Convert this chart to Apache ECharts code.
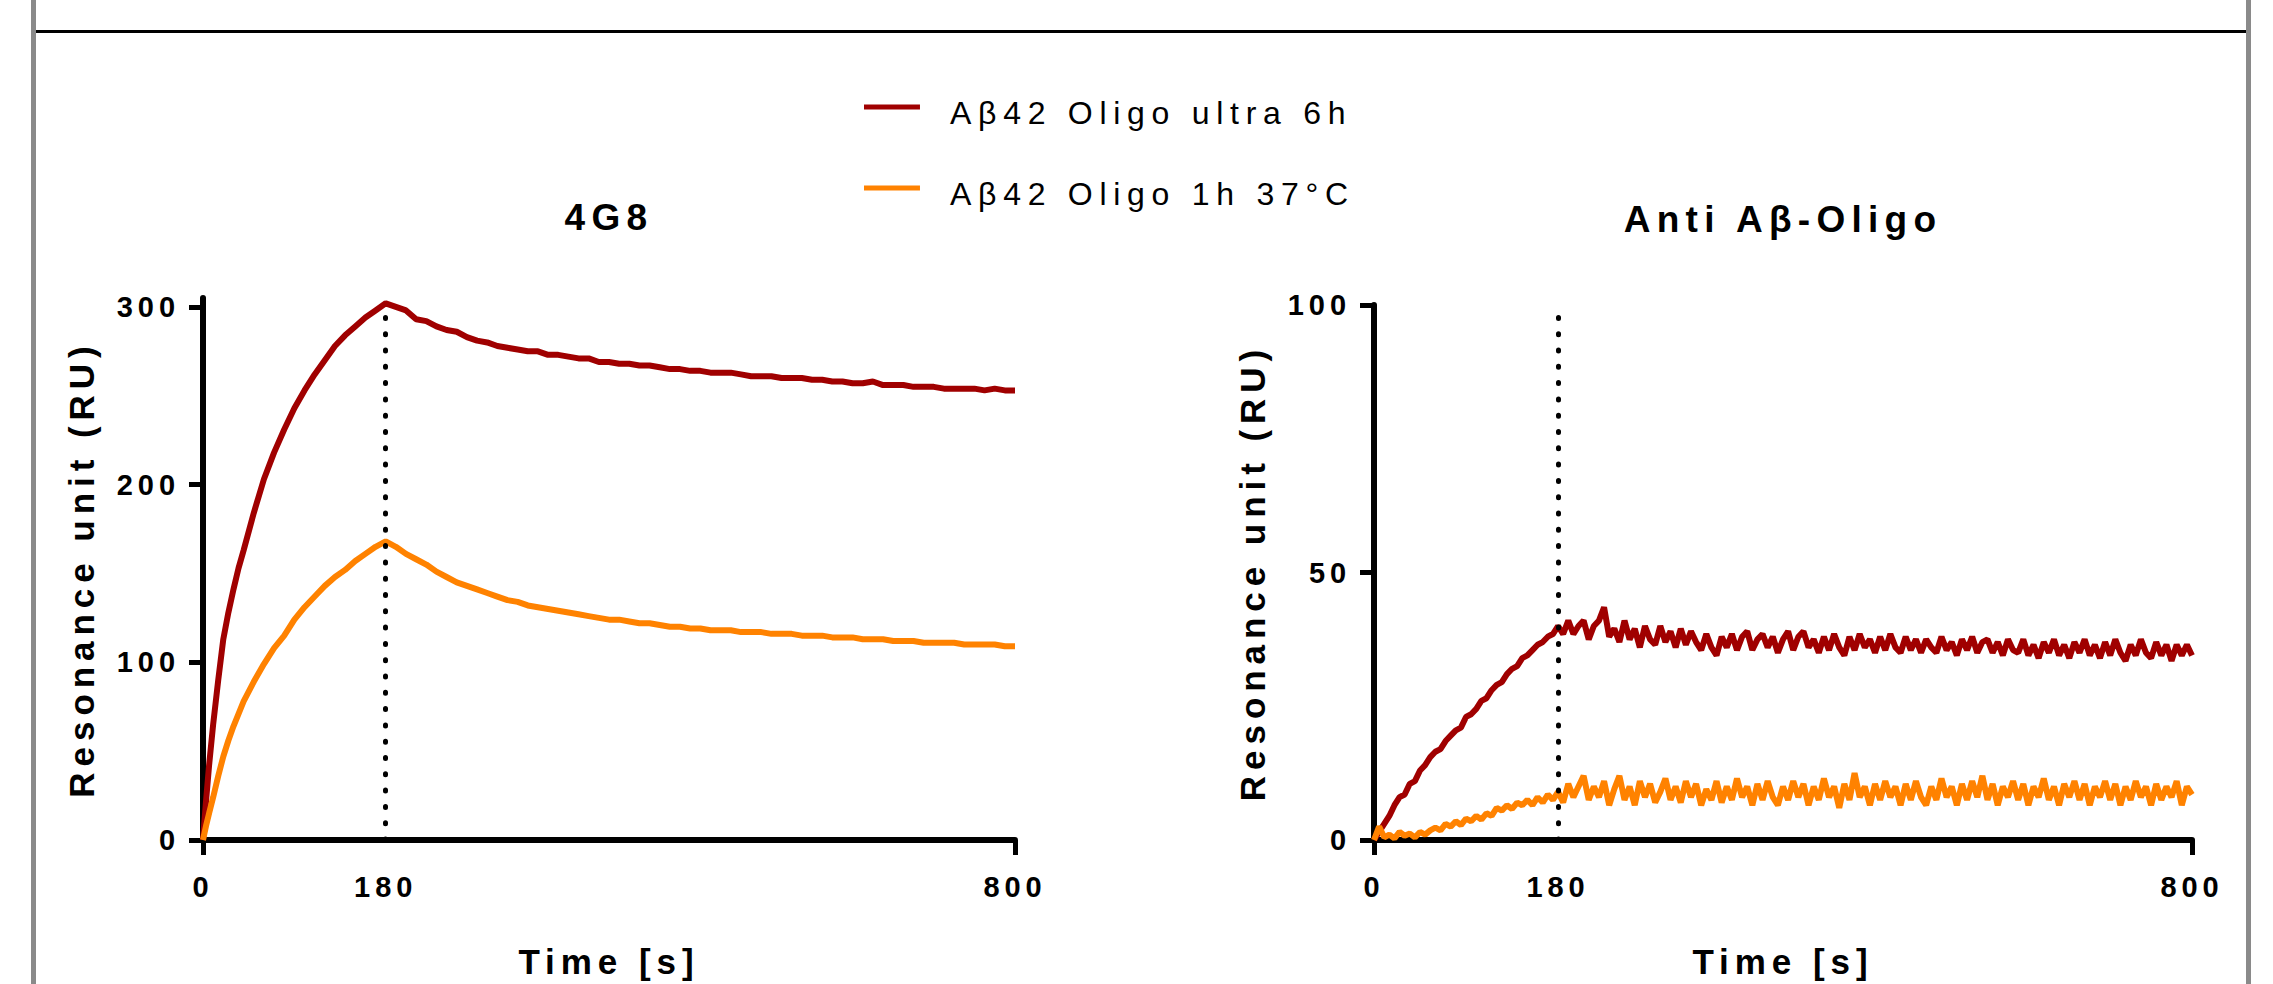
<!DOCTYPE html>
<html><head><meta charset="utf-8">
<script src="https://cdn.jsdelivr.net/npm/echarts@6/dist/echarts.min.js"></script>
<style>
html,body{margin:0;padding:0;background:#fff;}
#main{width:2273px;height:984px;}
#main svg text{letter-spacing:0.17em;}
#main svg text[style*="32px"]{letter-spacing:0.21em;}
</style></head><body><div id="main"></div>
<script>
// ---------------- data ----------------
const seriesNames = ['Aβ42 Oligo ultra 6h', 'Aβ42 Oligo 1h 37°C'];
const panelTitles = ['4G8', 'Anti Aβ-Oligo'];
const xAxisTitle = 'Time [s]';
const yAxisTitle = 'Resonance unit (RU)';
const xTickLabels = [0, 180, 800];
const xTickMarks = [0, 800];
const yTicksLeft = [0, 100, 200, 300];
const yTicksRight = [0, 50, 100];
const injectionEnd = 180;

// Panel 1: 4G8
const timeLeft = [0,3,6,10,15,20,25,30,35,40,
  50,60,70,80,90,100,110,120,130,140,150,160,170,180,
  190,200,210,220,230,240,250,260,270,280,290,300,
  310,320,330,340,350,360,370,380,390,400,
  410,420,430,440,450,460,470,480,490,500,
  510,520,530,540,550,560,570,580,590,600,
  610,620,630,640,650,660,670,680,690,700,
  710,720,730,740,750,760,770,780,790,800];
const ultraLeft = [0,22,42,65,90,113,128,141,153,163,
  184,203,218,231,243,253,262,270,278,284,289,294,298,302,
  300,298,293,292,289,287,286,283,281,280,278,277,
  276,275,275,273,273,272,271,271,269,269,
  268,268,267,267,266,265,265,264,264,263,
  263,263,262,261,261,261,260,260,260,259,
  259,258,258,257,257,258,256,256,256,255,
  255,255,254,254,254,254,253,254,253,253];
const oneHourLeft = [0,8,15,24,36,47,56,64,71,78,
  89,99,108,115,124,131,137,143,148,152,157,161,165,168,
  165,161,158,155,151,148,145,143,141,139,137,135,
  134,132,131,130,129,128,127,126,125,124,
  124,123,122,122,121,120,120,119,119,118,
  118,118,117,117,117,116,116,116,115,115,
  115,114,114,114,113,113,113,112,112,112,
  111,111,111,111,110,110,110,110,109,109];

// Panel 2: Anti Aβ-Oligo
const timeRight = [0,5,10,15,20,25,30,35,40,45,50,55,60,65,70,75,80,85,90,95,
  100,105,110,115,120,125,130,135,140,145,150,155,160,165,170,175,180,185,190,195,
  200,205,210,215,220,225,230,235,240,245,250,255,260,265,270,275,280,285,290,295,
  300,305,310,315,320,325,330,335,340,345,350,355,360,365,370,375,380,385,390,395,
  400,405,410,415,420,425,430,435,440,445,450,455,460,465,470,475,480,485,490,495,
  500,505,510,515,520,525,530,535,540,545,550,555,560,565,570,575,580,585,590,595,
  600,605,610,615,620,625,630,635,640,645,650,655,660,665,670,675,680,685,690,695,
  700,705,710,715,720,725,730,735,740,745,750,755,760,765,770,775,780,785,790,795,
  800];
const ultraRight = [0,1.5,3,4.5,6.5,8,8.5,10.5,11,13,14,15.5,16.5,17,18.5,19.5,20.5,21,23,23.5,
  24.5,26,26.5,28,29,29.5,31,32,32.5,34,34.5,35.5,36.5,37,38,38.5,40,38.5,41,38.5,
  40,41,37.5,40,41,43.5,38,39.5,37,41,37.5,39.5,36,40,37.5,36.5,40,37,39,36,
  39.5,36.5,39,37,35.5,38.5,36,34.5,38,36,38.5,35.5,38,39,35.5,37.5,38.5,36,38,35,
  37.5,39,35.5,38,39,36,37.5,35,38,35.5,38.5,36,34.5,38,35.5,38.5,36,37.5,35,38,
  35.5,38.5,36,35,38,35.5,37.5,35,37.5,36,35,38,35.5,37,34.5,37.5,35.5,38,35,37,
  37.5,35,37,34.5,37.5,35.5,35,37.5,34.5,36.5,34,37,35,37.5,34.5,36.5,34,37,35,37.5,
  34.5,36.5,34,37,34.5,37.5,35,33.5,36.5,34.5,37.5,35,34,37,34.5,36.5,33.5,36.5,34.5,36.5,
  34.5];
const oneHourRight = [0,2.5,0.5,1,0.3,1.5,0.8,1.2,0.5,1.5,1,1.8,2.3,1.8,3,2.5,3.5,2.8,4,3.5,
  4.5,3.8,5,4.5,6,5.5,6.5,5.8,7,6.5,7.5,6.5,8,7,8.5,7.5,9,7,10.5,8,
  10,12,7.5,10,8,11,6.5,9.5,12,7.5,10,6.5,11,8,10.5,7,9,11.5,7.5,10,
  7,11,8,10.5,6.5,9.5,7.5,11,7,10,7.5,11.5,8,10,6.5,10.5,7.5,11,8,6.5,
  10,7.5,11,8,10.5,6.5,10,7.5,11.5,8,10,6,10.5,7.5,12.5,8,10,6.5,10.5,7.5,
  11,8,10,6.5,10.5,7.5,11,8,6.5,10,7.5,11.5,8,10,6.5,10.5,7.5,11,8,12,
  7.5,10.5,6.5,10,8,11,7.5,10.5,6.5,10,8,11.5,7.5,10,6.5,10.5,8,11,7.5,10.5,
  6.5,10,8,11,7.5,10.5,6.5,10,7.5,11,8,10,6.5,10.5,7.5,10,8,11,6.5,10,
  8.5];

// ---------------- styling ----------------
const FONT = "'Liberation Sans', Arial, sans-serif";
const RED = '#a00000';
const ORANGE = '#ff8200';
const zip = (t, v) => t.map((x, i) => [x, v[i]]);

const chart = echarts.init(document.getElementById('main'), null, { renderer: 'svg' });

function xAxisFor(gridIndex) {
  return {
    gridIndex, type: 'value', min: 0, max: 800,
    name: xAxisTitle, nameLocation: 'middle', nameGap: 104,
    nameTextStyle: { fontSize: 35, fontWeight: 'bold', color: '#000', fontFamily: FONT },
    axisLine: { lineStyle: { color: '#000', width: 6 } },
    axisTick: { show: true, customValues: xTickMarks, length: 15, lineStyle: { color: '#000', width: 5 } },
    axisLabel: { customValues: xTickLabels, fontSize: 29, fontWeight: 'bold', color: '#000', fontFamily: FONT, margin: 32 },
    splitLine: { show: false }
  };
}
function yAxisFor(gridIndex, max, ticks) {
  return {
    gridIndex, type: 'value', min: 0, max,
    name: yAxisTitle, nameLocation: 'middle', nameRotate: 90, nameGap: 104,
    nameTextStyle: { fontSize: 35, fontWeight: 'bold', color: '#000', fontFamily: FONT },
    axisLine: { show: true, lineStyle: { color: '#000', width: 6 } },
    axisTick: { show: true, customValues: ticks, length: 14, lineStyle: { color: '#000', width: 5 } },
    axisLabel: { customValues: ticks, fontSize: 29, fontWeight: 'bold', color: '#000', fontFamily: FONT, margin: 23 },
    splitLine: { show: false }
  };
}
function dotted(top) {
  return {
    silent: true, symbol: ['none', 'none'], label: { show: false },
    lineStyle: { color: '#000', width: 5, type: [1, 15.3], cap: 'round' },
    emphasis: { disabled: true },
    data: [[{ coord: [injectionEnd, 0] }, { coord: [injectionEnd, top] }]]
  };
}
function lineSeries(name, color, xi, data, markTop) {
  const s = {
    name, type: 'line', xAxisIndex: xi, yAxisIndex: xi, data,
    showSymbol: false, symbol: 'none', color,
    lineStyle: { color, width: 6 }, itemStyle: { color },
    emphasis: { disabled: true }
  };
  if (markTop != null) s.markLine = dotted(markTop);
  return s;
}
// legend bar sits a little above the text centre, as in the original
const LEGEND_ICON = 'path://M0 0H56V5H0Z M0 17H0.01V17.01H0Z';
function legendFor(name, top) {
  return {
    data: [name], left: 864, top, orient: 'vertical', padding: 0,
    icon: LEGEND_ICON, itemWidth: 56, itemHeight: 17, selectedMode: false,
    textStyle: { fontSize: 32, lineHeight: 32, color: '#000', fontFamily: FONT, padding: [0, 0, 0, 25] }
  };
}

chart.setOption({
  animation: false,
  backgroundColor: '#fff',
  textStyle: { fontFamily: FONT },
  title: [
    { text: panelTitles[0], left: 609, top: 217, textAlign: 'center', textVerticalAlign: 'middle', padding: 0,
      textStyle: { fontSize: 37, fontWeight: 'bold', color: '#000', fontFamily: FONT } },
    { text: panelTitles[1], left: 1783, top: 219, textAlign: 'center', textVerticalAlign: 'middle', padding: 0,
      textStyle: { fontSize: 37, fontWeight: 'bold', color: '#000', fontFamily: FONT } }
  ],
  legend: [legendFor(seriesNames[0], 97), legendFor(seriesNames[1], 178)],
  grid: [
    { left: 203, top: 298, width: 812, height: 543, containLabel: false },
    { left: 1374, top: 305, width: 818, height: 545, containLabel: false }
  ],
  xAxis: [xAxisFor(0), xAxisFor(1)],
  yAxis: [yAxisFor(0, 305, yTicksLeft), yAxisFor(1, 100, yTicksRight)],
  series: [
    lineSeries(seriesNames[0], RED, 0, zip(timeLeft, ultraLeft), 300),
    lineSeries(seriesNames[1], ORANGE, 0, zip(timeLeft, oneHourLeft), null),
    lineSeries(seriesNames[0], RED, 1, zip(timeRight, ultraRight), 100),
    lineSeries(seriesNames[1], ORANGE, 1, zip(timeRight, oneHourRight), null)
  ],
  graphic: [
    { type: 'rect', silent: true, shape: { x: 31, y: 0, width: 5, height: 984 }, style: { fill: '#8a8a8a' } },
    { type: 'rect', silent: true, shape: { x: 2246, y: 0, width: 5, height: 984 }, style: { fill: '#8a8a8a' } },
    { type: 'rect', silent: true, shape: { x: 36, y: 30, width: 2210, height: 3 }, style: { fill: '#000' } }
  ]
});
</script></body></html>
